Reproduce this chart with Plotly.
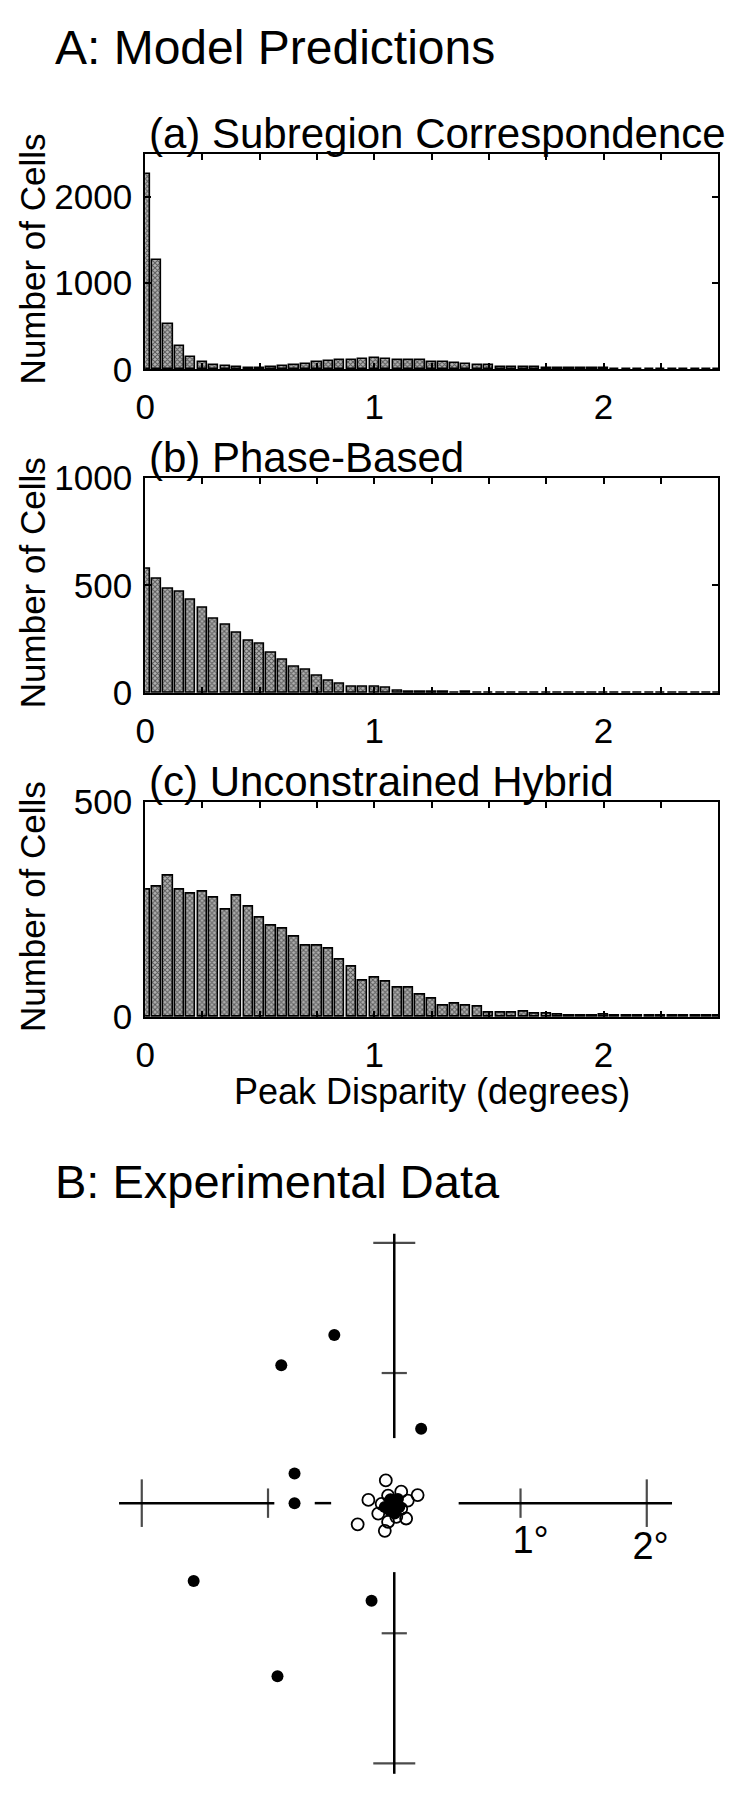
import plotly.graph_objects as go

# ── Figure geometry (pixels) ──────────────────────────────────────────────────
W, H = 731, 1800
FONT = "Liberation Sans, Arial, Helvetica, sans-serif"

# ── A: model predictions, histogram counts per 0.05 deg bin ───────────────────
bin_centers = [round(0.05 * i, 2) for i in range(51)]

counts_subregion = [
    2270, 1271, 521, 273, 138, 80, 45, 36, 28, 19,
    12, 28, 34, 45, 66, 82, 95, 105, 110, 120,
    128, 114, 112, 112, 104, 88, 82, 70, 62, 52,
    44, 30, 26, 30, 22, 19, 18, 15, 14, 11,
    10, 8, 7, 8, 6, 5, 6, 4, 4, 3, 3,
]
counts_phase = [
    576, 530, 482, 470, 435, 397, 347, 315, 279, 242,
    230, 188, 156, 121, 109, 79, 58, 44, 27, 30,
    30, 24, 11, 7, 6, 4, 5, 3, 4, 3,
    2, 2, 2, 1, 2, 1, 1, 1, 1, 1,
    1, 1, 1, 0, 1, 0, 1, 0, 0, 1, 0,
]
counts_hybrid = [
    295, 302, 327, 295, 286, 292, 278, 249, 282, 255,
    231, 212, 204, 186, 165, 166, 158, 133, 117, 85,
    92, 83, 67, 67, 52, 42, 27, 30, 27, 23,
    11, 11, 9, 13, 8, 7, 5, 4, 4, 4,
    5, 4, 4, 3, 4, 3, 3, 2, 2, 2, 2,
]

panel_titles = ["(a) Subregion Correspondence", "(b) Phase-Based", "(c) Unconstrained Hybrid"]
panel_ymax = [2500, 1000, 500]
panel_yticks = [[0, 1000, 2000], [0, 500, 1000], [0, 500]]
x_tickvals = [0, 0.25, 0.5, 0.75, 1, 1.25, 1.5, 1.75, 2, 2.25, 2.5]
x_ticktext = ["0", "", "", "", "1", "", "", "", "2", "", ""]

# ── B: experimental data (peak disparity, degrees) ────────────────────────────
filled_x = [-0.475, -0.895, 0.213, -0.79, -0.79, -1.589, -0.18, -0.925,
            -0.01, -0.036, 0.029, -0.075, 0.003, 0.04, -0.03]
filled_y = [1.293, 1.06, 0.571, 0.228, 0.0, -0.599, -0.75, -1.33,
            -0.005, -0.055, 0.032, -0.03, -0.08, -0.03, 0.03]
open_x = [-0.067, -0.205, -0.29, -0.075, 0.055, 0.185, 0.107, 0.094,
          -0.127, -0.049, -0.049, 0.016, -0.1, 0.055]
open_y = [0.175, 0.025, -0.163, -0.213, 0.088, 0.062, 0.02, -0.118,
          -0.08, 0.058, -0.143, -0.105, -0.005, -0.043]

# scale-bar cross (degrees), None separates the segments
cross_x = [0, 0, None, 0, 0, None, -2.18, -0.95, None, -0.63, -0.5, None, 0.51, 2.2]
cross_y = [0.5, 2.07, None, -0.53, -2.08, None, 0, 0, None, 0, 0, None, 0, 0]
hticks_major = [-2, 2]
hticks_minor = [-1, 1]
vticks_major = [-2, 2]
vticks_minor = [-1, 1]
deg_labels = ["1°", "2°"]
deg_label_x = [1.08, 2.03]
deg_label_y = [-0.31, -0.36]


def px(x):
    return x / W


def py(y):
    return 1 - y / H


fig = go.Figure()
layout = {}

# ── histogram panels ──────────────────────────────────────────────────────────
panel_tops = [137, 468, 799]
panel_h = 220
plot_l, plot_r = 137, 718

for i, counts in enumerate([counts_subregion, counts_phase, counts_hybrid]):
    n = "" if i == 0 else str(i + 1)
    fig.add_trace(go.Bar(
        x=bin_centers, y=counts, width=0.04,
        xaxis="x" + n, yaxis="y" + n,
        marker=dict(
            color="#666",
            line=dict(color="black", width=1.6),
            pattern=dict(shape="x", size=3.5, solidity=0.5,
                         fgcolor="#000", bgcolor="#b4b4b4"),
        ),
        showlegend=False, hoverinfo="skip",
    ))
    top = panel_tops[i]
    axis_style = dict(
        ticks="inside", ticklen=6, tickwidth=1.5, tickcolor="black",
        showline=True, linewidth=2, linecolor="black", mirror="allticks",
        showgrid=False, zeroline=False,
        tickfont=dict(size=35, color="black", family=FONT),
    )
    layout["xaxis" + n] = dict(
        domain=[px(plot_l), px(plot_r)], range=[0, 2.5], anchor="y" + n,
        tickvals=x_tickvals, ticktext=x_ticktext, ticklabelstandoff=6,
        **axis_style,
    )
    layout["yaxis" + n] = dict(
        domain=[py(top + panel_h), py(top)], range=[0, panel_ymax[i]],
        anchor="x" + n, tickvals=panel_yticks[i], ticklabelstandoff=4,
        **axis_style,
    )

# ── experimental scatter ──────────────────────────────────────────────────────
ox, oy = 389.6, 1516          # origin in pixels
sx, sy = 128, 133             # pixels per degree
scatter_top = 1230

fig.add_trace(go.Scatter(
    x=cross_x, y=cross_y, mode="lines", xaxis="x4", yaxis="y4",
    line=dict(color="black", width=2.5), showlegend=False, hoverinfo="skip",
))
fig.add_trace(go.Scatter(
    x=hticks_major + hticks_minor, y=[0] * 4, mode="markers", xaxis="x4", yaxis="y4",
    marker=dict(symbol="line-ns", size=[34, 34, 21, 21],
                line=dict(color="black", width=2.2)),
    showlegend=False, hoverinfo="skip",
))
fig.add_trace(go.Scatter(
    x=[0] * 4, y=vticks_major + vticks_minor, mode="markers", xaxis="x4", yaxis="y4",
    marker=dict(symbol="line-ew", size=[30, 30, 18, 18],
                line=dict(color="black", width=2.2)),
    showlegend=False, hoverinfo="skip",
))
fig.add_trace(go.Scatter(
    x=open_x, y=open_y, mode="markers", xaxis="x4", yaxis="y4",
    marker=dict(symbol="circle-open", size=12, color="black",
                line=dict(color="black", width=1.8)),
    showlegend=False, hoverinfo="skip",
))
fig.add_trace(go.Scatter(
    x=filled_x, y=filled_y, mode="markers", xaxis="x4", yaxis="y4",
    marker=dict(symbol="circle", size=12, color="black"),
    showlegend=False, hoverinfo="skip",
))
fig.add_trace(go.Scatter(
    x=deg_label_x, y=deg_label_y, text=deg_labels, mode="text",
    xaxis="x4", yaxis="y4", textfont=dict(size=38, color="black", family=FONT),
    cliponaxis=False, showlegend=False, hoverinfo="skip",
))

layout["xaxis4"] = dict(domain=[0, 1], range=[-ox / sx, (W - ox) / sx],
                        anchor="y4", visible=False)
layout["yaxis4"] = dict(domain=[0, py(scatter_top)],
                        range=[-(H - oy) / sy, (oy - scatter_top) / sy],
                        anchor="x4", visible=False)

# ── text ──────────────────────────────────────────────────────────────────────
annotations = [
    dict(text="A: Model Predictions", x=px(44), y=py(28), xanchor="left",
         yanchor="middle", font=dict(size=48)),
    dict(text="B: Experimental Data", x=px(44), y=py(1187), xanchor="left",
         yanchor="middle", font=dict(size=47)),
    dict(text="Peak Disparity (degrees)", x=px((plot_l + plot_r) / 2), y=py(1095),
         xanchor="center", yanchor="middle", font=dict(size=36)),
]
for i, title in enumerate(panel_titles):
    top = panel_tops[i]
    annotations.append(dict(text=title, x=px(139), y=py(top - 21), xanchor="left",
                            yanchor="middle", font=dict(size=42)))
    annotations.append(dict(text="Number of Cells", x=px(23), y=py(top + panel_h / 2 - 3),
                            xanchor="center", yanchor="middle", textangle=-90,
                            font=dict(size=35)))
for a in annotations:
    a.update(xref="paper", yref="paper", showarrow=False)
    a["font"].update(color="black", family=FONT)

fig.update_layout(
    width=W, height=H,
    margin=dict(l=0, r=0, t=0, b=0),
    paper_bgcolor="white", plot_bgcolor="white",
    font=dict(family=FONT, color="black"),
    bargap=0,
    annotations=annotations,
    **layout,
)

# drop the browser's default body margin so the figure sits at the page origin
fig.write_html(
    "out.html",
    config={"displayModeBar": False},
    post_script="document.body.style.margin='0';document.body.style.overflow='hidden';",
)
